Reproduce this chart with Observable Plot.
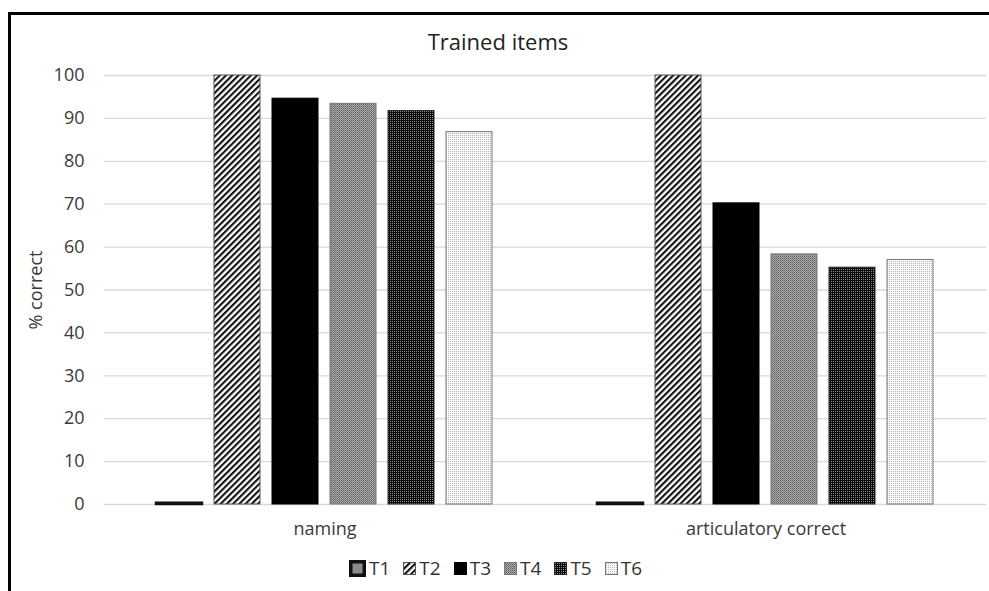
<!DOCTYPE html>
<html>
<head>
<meta charset="utf-8">
<script src="https://cdn.jsdelivr.net/npm/d3@7"></script>
<script src="https://cdn.jsdelivr.net/npm/@observablehq/plot@0.6"></script>
<style>
  html, body { margin: 0; padding: 0; background: #fff; }
  #page { position: relative; width: 989px; height: 591px; overflow: hidden; font-family: "Open Sans", sans-serif; }
  #frame { position: absolute; left: 8px; top: 12px; width: 990px; height: 600px; border-top: 3px solid #000; border-left: 3px solid #000; box-sizing: border-box; }
  #title { position: absolute; left: 0; top: 27px; width: 996px; text-align: center; font-size: 22px; line-height: 28px; color: #222; }
  #chart { position: absolute; left: 0; top: 50px; }
  #legend { position: absolute; left: 349px; top: 558px; height: 20px; display: flex; align-items: center; font-size: 19px; color: #333; }
  .item { display: flex; align-items: center; margin-right: 13px; }
  .item svg { display: block; margin-right: 3px; }
</style>
</head>
<body>
<div id="page">
  <div id="frame"></div>
  <div id="title">Trained items</div>
  <div id="chart"></div>
  <div id="legend"></div>
</div>
<svg width="0" height="0" style="position:absolute">
  <defs>
    <pattern id="pT2" patternUnits="userSpaceOnUse" width="4.4" height="4.4" patternTransform="rotate(45)">
      <rect width="4.4" height="4.4" fill="#fff"/>
      <rect width="2.1" height="4.4" fill="#111"/>
    </pattern>
    <pattern id="pT4" patternUnits="userSpaceOnUse" width="2" height="2">
      <rect width="2" height="2" fill="#aaaaaa"/>
      <rect x="0" y="0" width="1" height="1" fill="#606060"/>
      <rect x="1" y="1" width="1" height="1" fill="#7c7c7c"/>
    </pattern>
    <pattern id="pT5" patternUnits="userSpaceOnUse" width="2" height="2">
      <rect width="2" height="2" fill="#0a0a0a"/>
      <rect x="1" y="1" width="1" height="1" fill="#8a8a8a"/>
    </pattern>
    <pattern id="pT6" patternUnits="userSpaceOnUse" width="2" height="2">
      <rect width="2" height="2" fill="#fafafa"/>
      <rect x="1" y="1" width="1" height="1" fill="#b5b5b5"/>
    </pattern>
  </defs>
</svg>
<script>
const groups = ["naming", "articulatory correct"];
const series = ["T1", "T2", "T3", "T4", "T5", "T6"];
const naming = [0.3, 100, 94.6, 93.4, 91.7, 86.8];
const articulatory = [0.3, 100, 70.2, 58.3, 55.2, 57.0];
const yTicks = [0, 10, 20, 30, 40, 50, 60, 70, 80, 90, 100];

const fills = {T1: "#8c8c8c", T2: "url(#pT2)", T3: "#000", T4: "url(#pT4)", T5: "url(#pT5)", T6: "url(#pT6)"};
const strokes = {T1: "#111", T2: "#555", T3: "#000", T4: "#777", T5: "#222", T6: "#777"};
const widths = {T1: 2.5, T2: 1, T3: 1, T4: 1, T5: 1, T6: 1};

const data = [];
[naming, articulatory].forEach((vals, gi) => {
  vals.forEach((v, si) => data.push({group: groups[gi], series: series[si], value: v}));
});

const plot = Plot.plot({
  width: 989,
  height: 500,
  marginLeft: 103,
  marginRight: 3,
  marginTop: 25,
  marginBottom: 46,
  style: {fontFamily: "Open Sans, sans-serif", fontSize: "18px", color: "#3a3a3a", background: "transparent"},
  fx: {domain: groups, padding: 0, label: null, tickSize: 0, tickPadding: 18},
  x: {domain: series, axis: null, paddingInner: 0.2, paddingOuter: 0.842},
  y: {domain: [0, 100], ticks: yTicks, tickSize: 0, tickPadding: 20, label: "% correct", labelAnchor: "center", labelOffset: 75, labelArrow: "none"},
  color: {type: "identity"},
  marks: [
    Plot.gridY(yTicks, {stroke: "#d9d9d9", strokeOpacity: 1, strokeWidth: 1.3}),
    Plot.barY(data, {
      fx: "group",
      x: "series",
      y: "value",
      fill: d => fills[d.series],
      stroke: d => strokes[d.series],
      strokeWidth: d => widths[d.series]
    })
  ]
});
document.getElementById("chart").appendChild(plot);

const legend = document.getElementById("legend");
series.forEach(s => {
  const item = document.createElement("div");
  item.className = "item";
  const size = s === "T1" ? 17 : 13;
  const ns = "http://www.w3.org/2000/svg";
  const sv = document.createElementNS(ns, "svg");
  sv.setAttribute("width", size);
  sv.setAttribute("height", size);
  const r = document.createElementNS(ns, "rect");
  const sw = s === "T1" ? 3.5 : 1;
  r.setAttribute("x", sw / 2);
  r.setAttribute("y", sw / 2);
  r.setAttribute("width", size - sw);
  r.setAttribute("height", size - sw);
  r.setAttribute("fill", fills[s]);
  r.setAttribute("stroke", strokes[s]);
  r.setAttribute("stroke-width", sw);
  sv.appendChild(r);
  item.appendChild(sv);
  const t = document.createElement("span");
  t.textContent = s;
  item.appendChild(t);
  legend.appendChild(item);
});
</script>
</body>
</html>
